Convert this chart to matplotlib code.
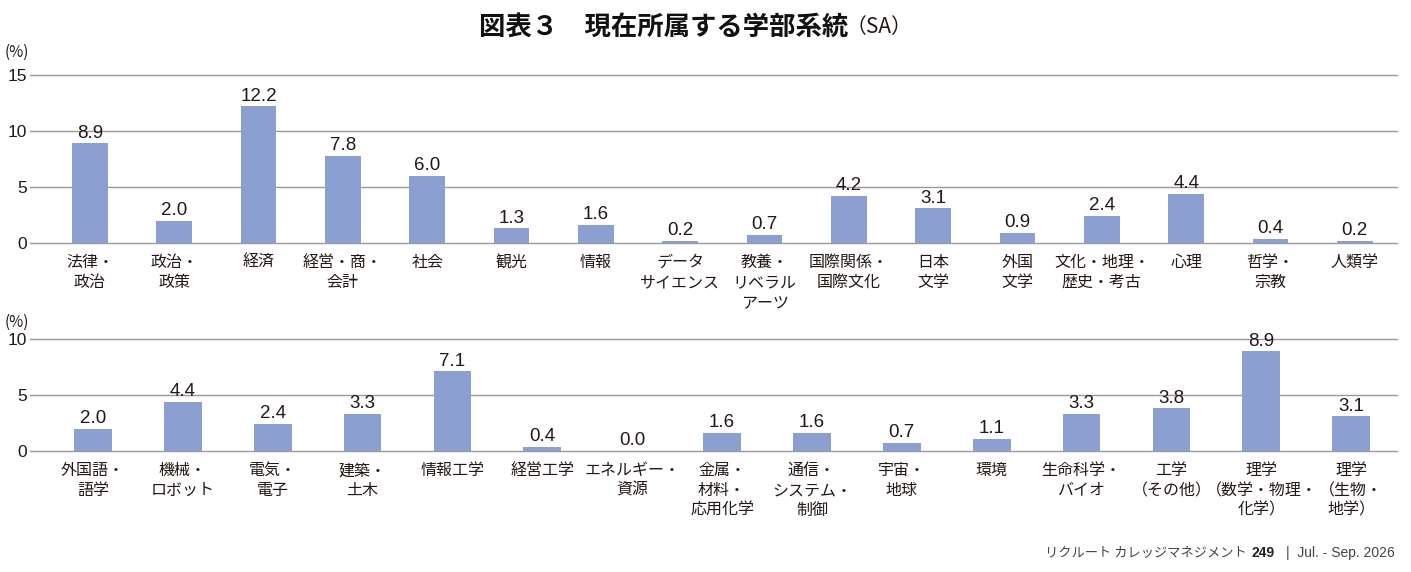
import matplotlib.pyplot as plt
import numpy as np

plt.rcParams['font.family'] = ['Noto Sans CJK JP', 'DejaVu Sans']

# --- data ---
top_labels = ["法律・\n政治", "政治・\n政策", "経済", "経営・商・\n会計", "社会", "観光", "情報",
              "データ\nサイエンス", "教養・\nリベラル\nアーツ", "国際関係・\n国際文化", "日本\n文学",
              "外国\n文学", "文化・地理・\n歴史・考古", "心理", "哲学・\n宗教", "人類学"]
top_values = [8.9, 2.0, 12.2, 7.8, 6.0, 1.3, 1.6, 0.2, 0.7, 4.2, 3.1, 0.9, 2.4, 4.4, 0.4, 0.2]

bot_labels = ["外国語・\n語学", "機械・\nロボット", "電気・\n電子", "建築・\n土木", "情報工学", "経営工学",
              "エネルギー・\n資源", "金属・\n材料・\n応用化学", "通信・\nシステム・\n制御", "宇宙・\n地球",
              "環境", "生命科学・\nバイオ", "工学\n（その他）", "理学\n（数学・物理・\n化学）",
              "理学\n（生物・\n地学）"]
bot_values = [2.0, 4.4, 2.4, 3.3, 7.1, 0.4, 0.0, 1.6, 1.6, 0.7, 1.1, 3.3, 3.8, 8.9, 3.1]

BAR = "#8c9fd1"
GRID = "#9a9a9a"
TXT = "#231815"
NUMF = ["Liberation Sans", "DejaVu Sans"]

fig = plt.figure(figsize=(14.11, 5.72), dpi=100)

def panel(rect, labels, values, ymax, ticks, xl):
    ax = fig.add_axes(rect)
    x = np.arange(len(values))
    ax.bar(x, values, width=0.42, color=BAR, zorder=3)
    for xi, v in zip(x, values):
        ax.text(xi, v + 0.15, f"{v:.1f}", ha="center", va="bottom", fontsize=13.5,
                color=TXT, family=NUMF)
    ax.set_ylim(0, ymax)
    ax.set_xlim(*xl)
    ax.set_yticks(ticks)
    for t in ticks:
        ax.axhline(t, color=GRID, lw=1.0, zorder=1, clip_on=False)
    ax.set_yticklabels([str(t) for t in ticks], fontsize=12.5, color=TXT, family=NUMF)
    ax.set_xticks(x)
    ax.set_xticklabels(labels, fontsize=11.5, color=TXT, linespacing=1.22, va="top")
    ax.tick_params(length=0, axis="both")
    ax.tick_params(axis="y", pad=2)
    ax.tick_params(axis="x", pad=8)
    for s in ax.spines.values():
        s.set_visible(False)
    return ax

panel([30/1411, 1-243/572, 1367/1411, 168/572], top_labels, top_values, 15, [0, 5, 10, 15], (-0.71, 15.5))
panel([30/1411, 1-451/572, 1367/1411, 112/572], bot_labels, bot_values, 10, [0, 5, 10], (-0.70, 14.51))

fig.text(5/1411, 1-52/572, "(%)", fontsize=11, color=TXT, va="center", ha="left")
fig.text(5/1411, 1-322/572, "(%)", fontsize=11, color=TXT, va="center", ha="left")

fig.text(848/1411, 1-27/572, "図表３　現在所属する学部系統", fontsize=19, fontweight="bold",
         color="#111111", ha="right", va="center")
fig.text(846/1411, 1-27/572, "（SA）", fontsize=15, color=TXT, ha="left", va="center")

fig.text(1247/1411, 1-553/572, "リクルート カレッジマネジメント", fontsize=9.5, color="#444444",
         ha="right", va="center")
fig.text(1252/1411, 1-553/572, "249", fontsize=10, fontweight="bold", color="#222222",
         ha="left", va="center", family=NUMF)
fig.text(1395/1411, 1-553/572, "|  Jul. - Sep. 2026", fontsize=10, color="#444444",
         ha="right", va="center", family=NUMF)

fig.savefig("out.png", dpi=100)
